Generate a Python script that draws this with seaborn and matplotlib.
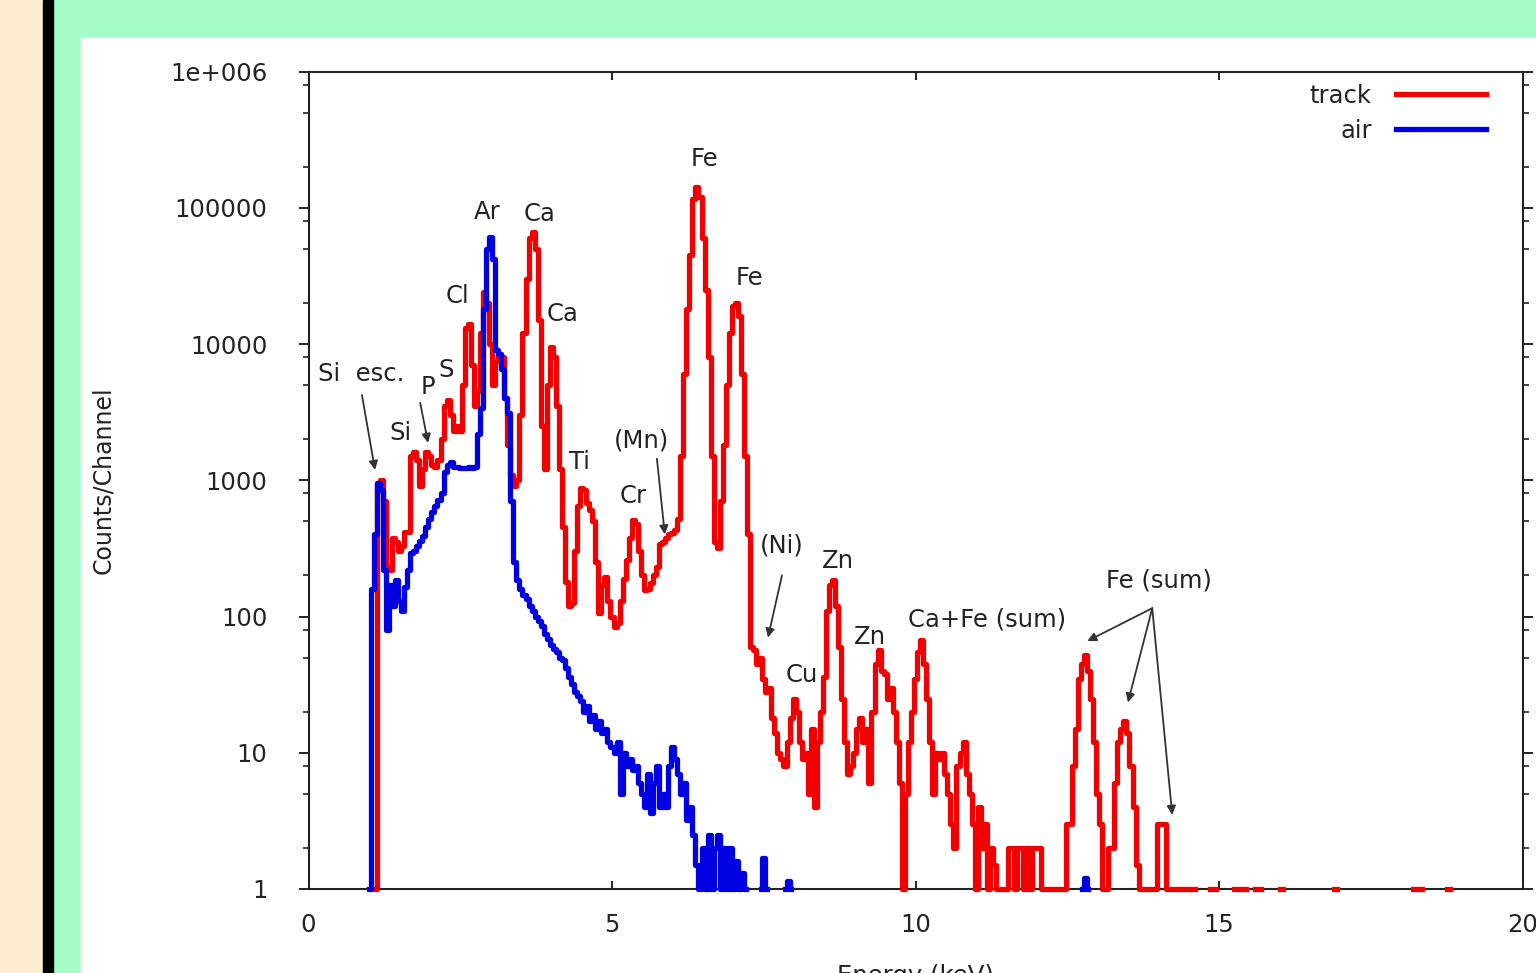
import numpy as np
import pandas as pd
import matplotlib
matplotlib.use("Agg")
import matplotlib.pyplot as plt
from matplotlib.patches import Rectangle
from matplotlib.lines import Line2D
from matplotlib.ticker import FixedLocator, LogLocator, NullFormatter
import seaborn as sns

nan = np.nan

# ---------------- data ----------------
channel_width = 0.05          # keV per channel
track_start = 1.00            # energy of first channel (keV)
track_counts = [
    nan, nan, 1, 950, 1000, 700, 230, 220, 380, 350,
    300, 330, 420, 420, 1500, 1600, 1400, 900, 1200, 1600,
    1500, 1300, 1250, 1400, 2000, 3500, 3900, 3000, 2300, 2500,
    2300, 5000, 13000, 14000, 7000, 3500, 4500, 12000, 24000, 20000,
    10000, 5000, 7500, 8500, 8000, 4000, 1800, 1100, 900, 1000,
    3000, 12000, 30000, 60000, 66000, 50000, 15000, 2500, 1200, 5000,
    9500, 8000, 3500, 1200, 450, 180, 120, 125, 300, 650,
    880, 850, 680, 600, 500, 250, 106, 170, 195, 130,
    100, 84, 90, 130, 190, 260, 380, 510, 480, 300,
    200, 156, 160, 175, 200, 230, 340, 350, 380, 400,
    410, 430, 520, 1500, 6000, 18000, 45000, 115000, 141000, 120000,
    60000, 25000, 8000, 1500, 350, 320, 700, 1800, 5000, 12000,
    19000, 20000, 16000, 6000, 1500, 400, 60, 57, 45, 50,
    35, 28, 30, 18, 14, 10, 9, 8, 12, 18,
    25, 20, 12, 9, 10, 5, 15, 4, 12, 20,
    36, 110, 170, 185, 120, 60, 25, 12, 7, 8,
    10, 15, 18, 12, 15, 6, 20, 45, 57, 40,
    38, 25, 30, 20, 12, 6, 1, 5, 12, 20,
    35, 55, 67, 45, 25, 12, 5, 10, 9, 10,
    7, 5, 3, 2, 8, 10, 12, 7, 5, 3,
    1, 4, 2, 3, 1, 2, 1.5, 1, 1, 1,
    1, 2, 2, 1, 2, 2, 1, 2, 1, 2,
    2, 2, 1, 1, 1, 1, 1, 1, 1, 1,
    3, 3, 8, 15, 35, 45, 52, 40, 25, 12,
    5, 3, 1, 1, 2, 2, 6, 12, 15, 17,
    14, 8, 4, 1.5, 1, 1, 1, 1, 1, 1,
    3, 3, 3, 1, 1, 1, 1, 1, 1, 1,
    1, 1, 1,
]
# isolated single-count channels far out in the track spectrum
track_tail_energy = [14.85, 14.90, 14.95, 15.25, 15.30, 15.35, 15.40, 15.45,
                     15.60, 15.65, 15.70, 16.00, 16.05, 16.90, 16.95,
                     18.20, 18.25, 18.30, 18.35, 18.75, 18.80]
track_tail_counts = [1] * len(track_tail_energy)

air_start = 1.00
air_counts = [
    1, 160, 400, 950, 850, 220, 80, 170, 120, 185,
    130, 110, 165, 220, 290, 300, 330, 360, 390, 450,
    520, 580, 650, 720, 800, 1150, 1300, 1350, 1250, 1250,
    1230, 1220, 1230, 1250, 1220, 1250, 2200, 3400, 18000, 50000,
    61000, 42000, 9000, 8500, 6500, 4000, 3100, 700, 250, 185,
    160, 145, 135, 120, 110, 100, 92, 85, 75, 68,
    62, 58, 55, 50, 48, 42, 36, 32, 28, 26,
    24, 20, 22, 17, 19, 15, 17, 14, 15, 12,
    11, 10, 12, 5, 10, 8, 9, 7.5, 8, 6,
    5, 4, 7, 3.6, 6, 8, 4, 5, 4, 8,
    11, 9, 7, 5, 6, 3.2, 4, 2.5, 1.5, 1,
    2, 1, 2.5, 1, 2, 2.5, 1, 2, 1, 2,
    1, 1.6, 1, 1.3, 1, nan, nan, nan, nan, 1,
    1.7, 1, nan, nan, nan, nan, nan, 1, 1.15, 1,
]
air_extra_energy = [12.75, 12.80, 12.85]
air_extra_counts = [1, 1.2, 1]

series_names = ["track", "air"]
series_colors = ["#f20000", "#0000e0"]

x_ticks = [0, 5, 10, 15, 20]
x_tick_labels = ["0", "5", "10", "15", "20"]
y_ticks = [1, 10, 100, 1000, 10000, 100000, 1000000]
y_tick_labels = ["1", "10", "100", "1000", "10000", "100000", "1e+006"]

# peak labels: (text, energy, counts)
peak_labels = [
    ("Si  esc.", 0.87, 6000), ("Si", 1.52, 2230), ("P", 1.97, 4840),
    ("S", 2.27, 6440), ("Cl", 2.46, 22500), ("Ar", 2.94, 92700),
    ("Ca", 3.81, 89600), ("Ca", 4.19, 16600), ("Ti", 4.47, 1370),
    ("(Mn)", 5.49, 1950), ("Cr", 5.35, 770), ("Fe", 6.52, 229000),
    ("Fe", 7.27, 30400), ("(Ni)", 7.80, 331), ("Zn", 8.72, 257),
    ("Cu", 8.13, 37), ("Zn", 9.25, 71), ("Ca+Fe (sum)", 11.18, 95),
    ("Fe (sum)", 14.01, 184),
]
# arrows: (tail energy, tail counts, head energy, head counts)
peak_arrows = [
    (0.88, 4230, 1.096, 1190),
    (1.84, 3700, 1.97, 1880),
    (5.74, 1440, 5.87, 400),
    (7.80, 200, 7.57, 70),
    (13.90, 115, 12.83, 66),
    (13.90, 115, 13.50, 23.4),
    (13.90, 115, 14.23, 3.5),
]

# ---------------- build tidy frame ----------------
def spectrum_frame(name, energies, counts):
    df = pd.DataFrame({"energy": np.round(energies, 3), "counts": counts})
    df["series"] = name
    return df

track_e = track_start + channel_width * np.arange(len(track_counts))
air_e = air_start + channel_width * np.arange(len(air_counts))
frames = [
    spectrum_frame("track", track_e, track_counts),
    spectrum_frame("track", track_tail_energy, track_tail_counts),
    spectrum_frame("air", air_e, air_counts),
    spectrum_frame("air", air_extra_energy, air_extra_counts),
]
parts = []
for name in series_names:
    d = pd.concat([f for f in frames if f["series"].iloc[0] == name])
    d = d.sort_values("energy").reset_index(drop=True)
    valid = d["counts"].notna()
    gap = d["energy"].diff() > 1.5 * channel_width
    d["unit"] = name + "_" + ((~valid) | gap).cumsum().astype(str)
    parts.append(d[valid])
data = pd.concat(parts, ignore_index=True)

# ---------------- figure ----------------
W, H = 1536, 973
fig = plt.figure(figsize=(W / 100, H / 100), dpi=100, facecolor="#a6fcc9")
fig.add_artist(Rectangle((0, 0), 43 / W, 1, transform=fig.transFigure,
                         color="#fdebd0", zorder=-3))
fig.add_artist(Rectangle((43 / W, 0), 10 / W, 1, transform=fig.transFigure,
                         color="#000000", zorder=-3))
fig.add_artist(Rectangle((81 / W, 0), (W - 81) / W, (H - 38) / H,
                         transform=fig.transFigure, color="#ffffff", zorder=-3))

ax = fig.add_axes([308.5 / W, 1 - 889 / H, (1522.5 - 308.5) / W, (889 - 71.5) / H])
ax.set_facecolor("white")

palette = dict(zip(series_names, series_colors))
lw = 3.8
sns.lineplot(data=data, x="energy", y="counts", hue="series", units="unit",
             estimator=None, hue_order=series_names, palette=palette,
             drawstyle="steps-mid", linewidth=lw, legend=False, sort=False,
             ax=ax, zorder=3, clip_on=False)

ax.set_yscale("log")
ax.set_xlim(0, 20)
ax.set_ylim(1, 1e6)

text_color = "#222222"
fs = 17.5
ax.set_xticks(x_ticks)
ax.set_xticklabels(x_tick_labels, fontsize=fs, color=text_color)
ax.yaxis.set_major_locator(FixedLocator(y_ticks))
ax.set_yticklabels(y_tick_labels, fontsize=fs, color=text_color)
ax.yaxis.set_minor_locator(LogLocator(base=10, subs=(2, 5, 8)))
ax.yaxis.set_minor_formatter(NullFormatter())
ax.tick_params(axis="y", which="major", direction="out", left=True, right=True,
               length=7.5, width=1.4, pad=22, color="#222222")
ax.tick_params(axis="y", which="minor", direction="out", left=True, right=True,
               length=4, width=1.2, color="#222222")
ax.tick_params(axis="x", which="major", direction="in", top=True, bottom=True,
               length=5.5, width=1.4, pad=17, color="#222222")
ax.tick_params(axis="x", which="minor", bottom=False, top=False)
for s in ax.spines.values():
    s.set_linewidth(1.5)
    s.set_color("#222222")

ax.set_ylabel("Counts/Channel", fontsize=17, color=text_color, labelpad=40)
ax.set_xlabel("Energy (keV)", fontsize=fs, color=text_color, labelpad=20)

for txt, e, c in peak_labels:
    ax.text(e, c, txt, fontsize=fs, color=text_color, ha="center", va="center",
            zorder=5)
for e0, c0, e1, c1 in peak_arrows:
    ax.annotate("", xy=(e1, c1), xytext=(e0, c0),
                arrowprops=dict(arrowstyle="-|>", color="#333333", lw=1.3,
                                mutation_scale=13, shrinkA=0, shrinkB=0),
                zorder=5)

handles = [Line2D([], [], color=palette[n], linewidth=lw) for n in series_names]
ax.legend(handles, series_names, loc="upper right", markerfirst=False,
          frameon=False, fontsize=fs, handlelength=3.7, handletextpad=1.0,
          labelspacing=0.45, bbox_to_anchor=(0.988, 1.012),
          labelcolor=text_color)

fig.savefig("out.png", dpi=100, facecolor=fig.get_facecolor())
